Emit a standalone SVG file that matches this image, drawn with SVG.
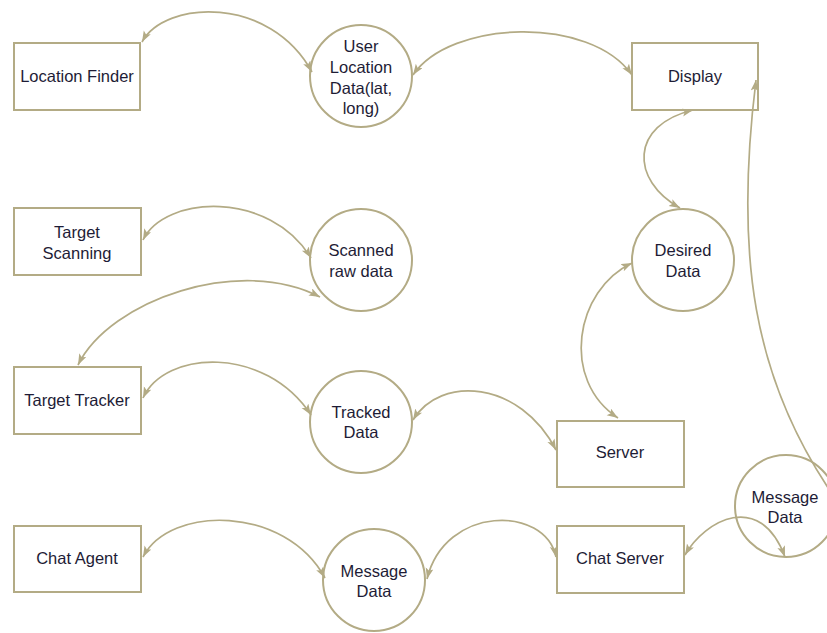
<svg xmlns="http://www.w3.org/2000/svg" width="827" height="633" viewBox="0 0 827 633">
<defs>
<style>
.box{fill:#fff;stroke:#b3ab85;stroke-width:2}
.node{fill:#fff;stroke:#b3ab85;stroke-width:2}
.lbl{font-family:"Liberation Sans",Arial,sans-serif;font-size:16.5px;fill:#1e1c36;text-anchor:middle}
.conn{fill:none;stroke:#b3ab85;stroke-width:1.7;marker-start:url(#arr);marker-end:url(#arr)}
</style>
<marker id="arr" markerUnits="userSpaceOnUse" markerWidth="12" markerHeight="10" refX="11" refY="4" orient="auto-start-reverse">
<path d="M0,0 L11,4 L0,8 L2.5,4 z" fill="#b3ab85"/>
</marker>
</defs>
<rect width="827" height="633" fill="#fff"/>
<g id="nodes">
<g id="location-finder"><rect class="box" x="14" y="43" width="126" height="67"/><text class="lbl" x="77" y="82">Location Finder</text></g>
<g id="user-location-data"><circle class="node" cx="361" cy="76" r="51"/><text class="lbl" x="361" y="52">User</text><text class="lbl" x="361" y="73">Location</text><text class="lbl" x="361" y="94">Data(lat,</text><text class="lbl" x="361" y="114">long)</text></g>
<g id="display"><rect class="box" x="632" y="43" width="126" height="67"/><text class="lbl" x="695" y="82">Display</text></g>
<g id="target-scanning"><rect class="box" x="14" y="208" width="127" height="67"/><text class="lbl" x="77" y="238">Target</text><text class="lbl" x="77" y="259">Scanning</text></g>
<g id="scanned-raw-data"><circle class="node" cx="361" cy="260" r="51"/><text class="lbl" x="361" y="256">Scanned</text><text class="lbl" x="361" y="277">raw data</text></g>
<g id="desired-data"><circle class="node" cx="683" cy="260" r="51"/><text class="lbl" x="683" y="256">Desired</text><text class="lbl" x="683" y="277">Data</text></g>
<g id="target-tracker"><rect class="box" x="14" y="367" width="127" height="67"/><text class="lbl" x="77" y="406">Target Tracker</text></g>
<g id="tracked-data"><circle class="node" cx="361" cy="422" r="51"/><text class="lbl" x="361" y="418">Tracked</text><text class="lbl" x="361" y="438">Data</text></g>
<g id="server"><rect class="box" x="557" y="421" width="127" height="66"/><text class="lbl" x="620" y="458">Server</text></g>
<g id="chat-agent"><rect class="box" x="14" y="526" width="127" height="66"/><text class="lbl" x="77" y="564">Chat Agent</text></g>
<g id="message-data-1"><circle class="node" cx="374" cy="580" r="51"/><text class="lbl" x="374" y="577">Message</text><text class="lbl" x="374" y="597">Data</text></g>
<g id="chat-server"><rect class="box" x="557" y="526" width="127" height="67"/><text class="lbl" x="620" y="564">Chat Server</text></g>
<g id="message-data-2"><circle class="node" cx="786" cy="506" r="51"/><text class="lbl" x="785" y="503">Message</text><text class="lbl" x="785" y="523">Data</text></g>
</g>
<g id="connectors">
<path class="conn" d="M142 42 C165 0 270 -5 312 72"/>
<path class="conn" d="M413 75 C450 20 590 15 632 75"/>
<path class="conn" d="M693 110 C630 125 630 180 680 208"/>
<path class="conn" d="M632 263 C575 290 560 380 618 418"/>
<path class="conn" d="M756 80 C735 250 750 380 840 505"/>
<path class="conn" d="M685 555 C705 520 760 490 785 557"/>
<path class="conn" d="M143 240 C165 195 270 190 311 258"/>
<path class="conn" d="M78 365 C110 300 240 255 320 297"/>
<path class="conn" d="M143 398 C165 350 265 345 311 415"/>
<path class="conn" d="M413 420 C440 375 520 380 556 450"/>
<path class="conn" d="M143 557 C170 505 285 505 325 578"/>
<path class="conn" d="M427 579 C445 505 545 505 556 557"/>
</g>
</svg>
